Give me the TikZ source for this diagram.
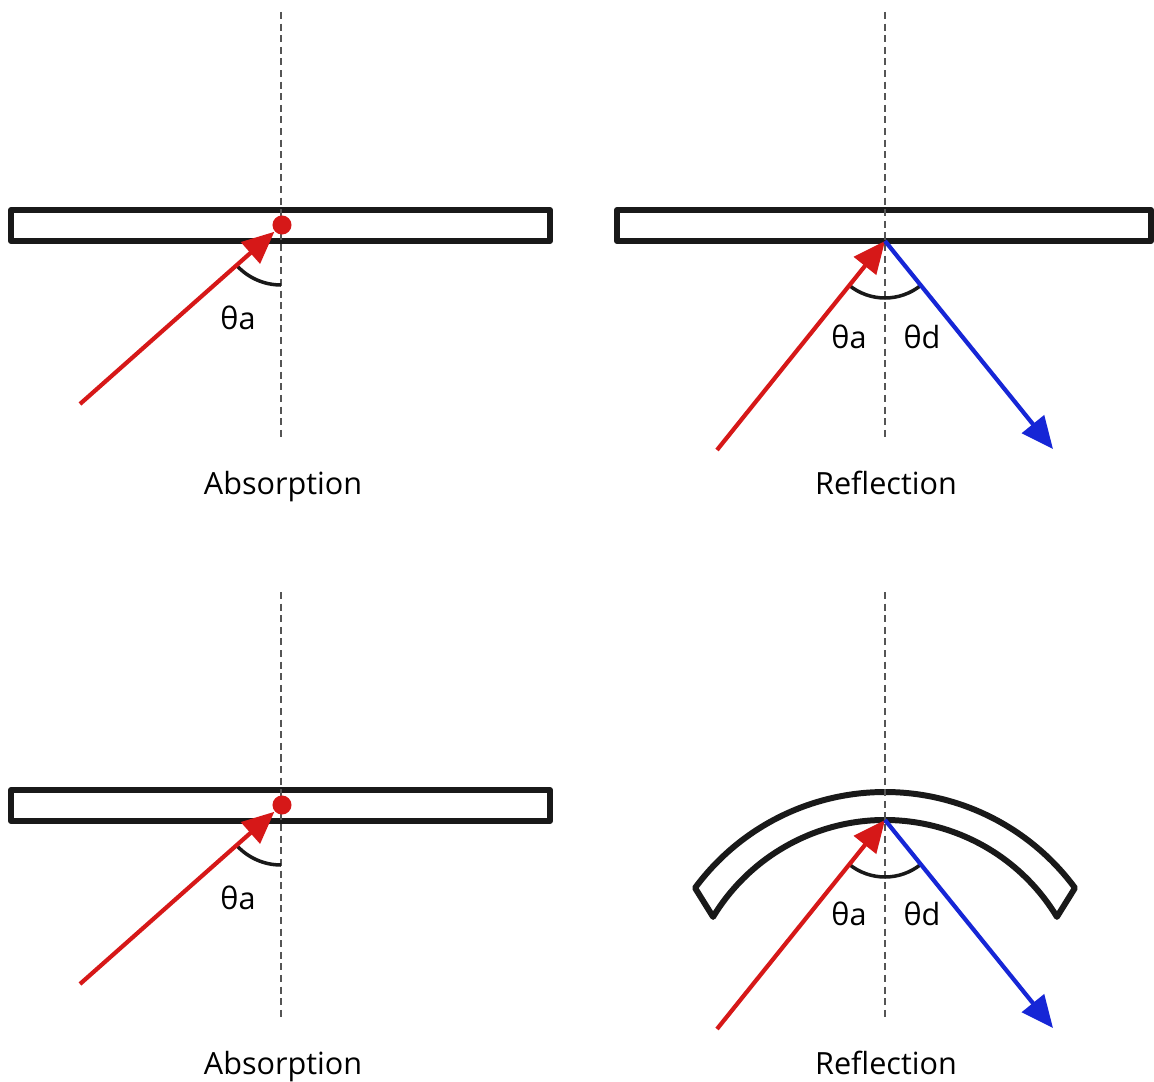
\documentclass[tikz,border=0pt]{standalone}
\usepackage{fontspec}
\setmainfont{Open Sans}
\usetikzlibrary{arrows.meta,calc}
\definecolor{rayred}{RGB}{214,24,24}
\definecolor{rayblue}{RGB}{22,38,214}
\definecolor{normalgray}{RGB}{85,85,85}
\definecolor{platecol}{RGB}{25,25,25}

\begin{document}
\begin{tikzpicture}[x=0.01cm,y=-0.01cm,>={Triangle[length=3.2mm,width=2.8mm]},
  plate/.style={draw=platecol,line width=1.7pt,line join=round},
  normalline/.style={draw=normalgray,line width=0.7pt,dash pattern=on 2pt off 1.3pt},
  inray/.style={->,draw=rayred,line width=1.2pt},
  outray/.style={->,draw=rayblue,line width=1.2pt},
  anglearc/.style={draw=platecol,line width=1pt},
  hitdot/.style={circle,fill=rayred,inner sep=0pt,minimum size=0.19cm},
  lbl/.style={anchor=base,inner sep=0pt,font=\fontsize{8.7}{10}\selectfont}]
  \useasboundingbox (0,0) rectangle (1154,1082);

  % top left: absorption
  \draw[plate] (11,210) rectangle (550,241);
  \coordinate (nAtop) at (281,12);
  \coordinate (nAbot) at (281,437);
  \draw[normalline] (nAtop) -- (nAbot);
  \coordinate (srcA) at (80,404);
  \node[hitdot] (hitA) at (282,225) {};
  \draw[anglearc] (281,225) ++(138.3:60) arc[start angle=138.3,end angle=90,radius=60];
  \draw[inray] (srcA) -- (hitA);
  \node[lbl] (thA) at (238,330) {θa};
  \node[lbl] (capA) at (283,494) {Absorption};

  % top right: reflection
  \draw[plate] (617,210) rectangle (1151,241);
  \coordinate (nBtop) at (885,12);
  \coordinate (nBbot) at (885,437);
  \draw[normalline] (nBtop) -- (nBbot);
  \coordinate (srcB) at (717,450);
  \coordinate (hitB) at (885,241);
  \coordinate (endB) at (1053,449);
  \draw[anglearc] (hitB) ++(128.8:57) arc[start angle=128.8,end angle=51.1,radius=57];
  \draw[inray] (srcB) -- (hitB);
  \draw[outray] (hitB) -- (endB);
  \node[lbl] (thBa) at (849,349) {θa};
  \node[lbl] (thBd) at (922,349) {θd};
  \node[lbl] (capB) at (886,494) {Reflection};

  % bottom left: absorption
  \draw[plate] (11,790) rectangle (550,821);
  \coordinate (nCtop) at (281,592);
  \coordinate (nCbot) at (281,1017);
  \draw[normalline] (nCtop) -- (nCbot);
  \coordinate (srcC) at (80,984);
  \node[hitdot] (hitC) at (282,805) {};
  \draw[anglearc] (281,805) ++(138.3:60) arc[start angle=138.3,end angle=90,radius=60];
  \draw[inray] (srcC) -- (hitC);
  \node[lbl] (thC) at (238,909) {θa};
  \node[lbl] (capC) at (283,1074) {Absorption};

  % bottom right: reflection on a curved plate
  \draw[plate] (885,1028) ++(216.4:236) arc[start angle=216.4,end angle=323.6,radius=236]
    -- ($(885,1021)+(328.8:201)$) arc[start angle=328.8,end angle=211.2,radius=201] -- cycle;
  \coordinate (nDtop) at (885,592);
  \coordinate (nDbot) at (885,1017);
  \draw[normalline] (nDtop) -- (nDbot);
  \coordinate (srcD) at (717,1029);
  \coordinate (hitD) at (885,820);
  \coordinate (endD) at (1053,1028);
  \draw[anglearc] (hitD) ++(128.8:57) arc[start angle=128.8,end angle=51.1,radius=57];
  \draw[inray] (srcD) -- (hitD);
  \draw[outray] (hitD) -- (endD);
  \node[lbl] (thDa) at (849,925) {θa};
  \node[lbl] (thDd) at (922,925) {θd};
  \node[lbl] (capD) at (886,1074) {Reflection};
\end{tikzpicture}
\end{document}
